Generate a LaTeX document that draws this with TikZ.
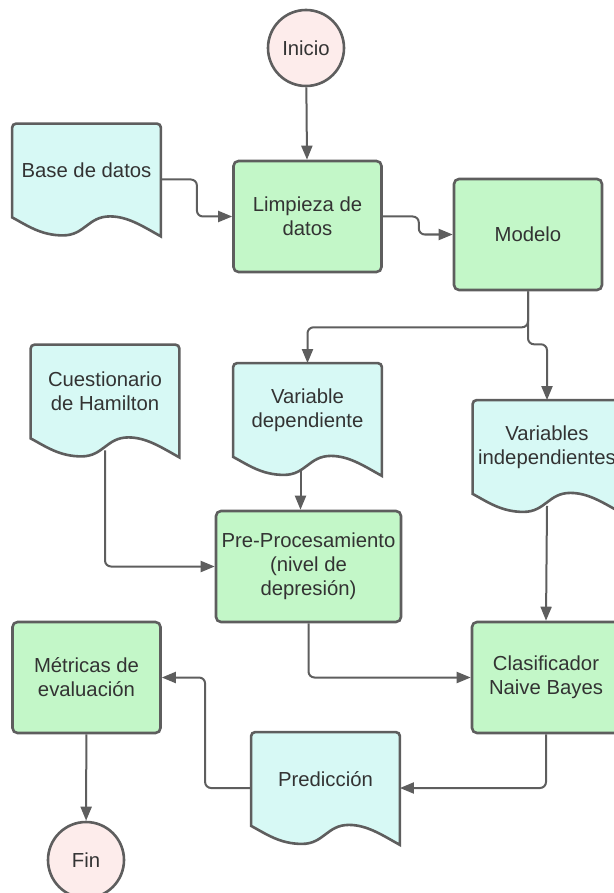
\documentclass[tikz,border=0pt]{standalone}
\usepackage{fontspec}
\setmainfont{Liberation Sans}
\usetikzlibrary{arrows.meta, backgrounds}
\definecolor{boxgreen}{HTML}{C3F7C8}
\definecolor{docteal}{HTML}{D7F9F5}
\definecolor{termpink}{HTML}{FDECEB}
\definecolor{linegray}{HTML}{5E5E5E}
\definecolor{textgray}{HTML}{333333}

\begin{document}
\begin{tikzpicture}[x=0.5pt, y=-0.5pt,
    every node/.style = {font=\fontsize{10.15}{12}\selectfont, text=textgray, align=center},
    proc/.style     = {draw=linegray, line width=1.3pt, fill=boxgreen, rounded corners=2.5pt, minimum width=74pt, minimum height=55.5pt, inner sep=0pt},
    doc/.style      = {minimum width=74pt, minimum height=46.5pt, inner sep=0pt},
    term/.style     = {draw=linegray, line width=1.3pt, fill=termpink, circle, minimum size=38pt, inner sep=0pt},
    docline/.style  = {draw=linegray, line width=1.3pt, fill=docteal},
    arr/.style      = {draw=linegray, line width=1pt, rounded corners=3pt, -{Triangle[length=7pt, width=5.5pt]}}]
    \useasboundingbox (0,0) rectangle (614,893);
    %
    \node[term] (ini) at (306,48) {Inicio};
    \node[doc] (bd) at (86.5,170.5) {Base de datos};
    \node[proc] (limp) at (307.5,216.5) {Limpieza de\\datos};
    \node[proc] (modelo) at (528,234.5) {Modelo};
    \node[doc] (cues) at (105,391.5) {Cuestionario\\de Hamilton};
    \node[doc] (vdep) at (307.5,410) {Variable\\dependiente};
    \node[doc] (vind) at (547,447) {Variables\\independientes};
    \node[proc, minimum width=92.5pt] (preproc) at (308.5,566.5) {Pre-Procesamiento\\(nivel de\\depresión)};
    \node[proc] (metricas) at (86.5,677.5) {Métricas de\\evaluación};
    \node[proc] (clasif) at (546,677.5) {Clasificador\\Naive Bayes};
    \node[doc] (pred) at (325.5,779) {Predicción};
    \node[term] (fin) at (86,860) {Fin};
    %
    % wavy document outlines
    \begin{scope}[on background layer]
      \foreach \n in {bd, cues, vdep, vind, pred}
        \path[docline] (\n.south west) [rounded corners=2pt] -- (\n.north west) -- (\n.north east) [sharp corners] -- (\n.south east) -- ++(0,19)
          .. controls +(-18,-10) and +(18,0) .. ++(-51,-20)
          .. controls +(-22,0) and +(22,0) .. ++(-47,19)
          .. controls +(-22,0) and +(15,8) .. (\n.south west) -- cycle;
    \end{scope}
    %
    \draw[arr] (ini) -- (limp);
    \draw[arr] ([yshift=-4.5pt]bd.east) -- ++(36,0) |- (limp.west);
    \draw[arr] (limp.east) -- ++(36,0) |- (modelo.west);
    \draw[arr] (modelo.south) -- ++(0,36) -| (vdep.north);
    \draw[arr] (modelo.south) -- ++(0,53) -| (vind.north);
    \draw[arr] ([xshift=-3.5pt, yshift=-6.5pt]vdep.south) -- ([xshift=-3.5pt]vdep.south |- preproc.north);
    \draw[arr] ([yshift=-6pt]cues.south) |- (preproc.west);
    \draw[arr] ([yshift=-6pt]vind.south) -- (clasif.north);
    \draw[arr] (preproc.south) |- (clasif.west);
    \draw[arr] (clasif.south) |- ([yshift=-4.5pt]pred.east);
    \draw[arr] ([yshift=-4.5pt]pred.west) -- ++(-46,0) |- (metricas.east);
    \draw[arr] (metricas) -- (fin);
\end{tikzpicture}
\end{document}
